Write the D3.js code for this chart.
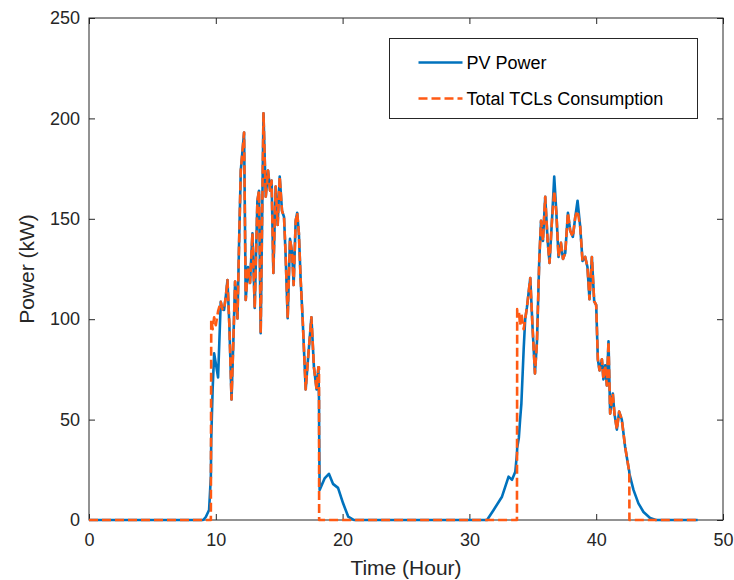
<!DOCTYPE html>
<html>
<head>
<meta charset="utf-8">
<script src="https://cdn.jsdelivr.net/npm/d3@7"></script>
<style>
  body { margin: 0; background: #fff; }
  text { font-family: "Liberation Sans", Arial, Helvetica, sans-serif; }
</style>
</head>
<body>
<div id="chart"></div>
<script>
// time axis (hours) shared by both series
const hours = [
  0, 9.0, 9.21, 9.47, 9.61, 9.64, 9.75, 9.87, 10.0, 10.18,
  10.39, 10.52, 10.65, 10.8, 10.92, 11.07, 11.24, 11.38, 11.52, 11.71,
  11.83, 11.97, 12.23, 12.36, 12.54, 12.7, 12.89, 13.07, 13.28, 13.41,
  13.54, 13.76, 13.94, 14.12, 14.28, 14.4, 14.54, 14.72, 14.88, 15.04,
  15.22, 15.38, 15.5, 15.67, 15.85, 16.02, 16.14, 16.3, 16.42, 16.55,
  16.69, 16.85, 17.09, 17.27, 17.54, 17.74, 17.95, 18.09, 18.14, 18.15,
  18.19, 18.58, 18.92, 19.24, 19.64, 20.04, 20.44, 20.9, 31.39, 31.91,
  32.57, 33.09, 33.36, 33.62, 33.75, 33.77, 33.9, 34.0, 34.1, 34.28,
  34.4, 34.54, 34.8, 34.98, 35.17, 35.33, 35.51, 35.65, 35.8, 35.98,
  36.17, 36.32, 36.51, 36.69, 36.85, 37.03, 37.22, 37.38, 37.56, 37.77,
  37.95, 38.16, 38.35, 38.53, 38.74, 38.92, 39.13, 39.31, 39.47, 39.66,
  39.84, 40.0, 40.13, 40.26, 40.45, 40.57, 40.71, 40.84, 40.97, 41.1,
  41.31, 41.44, 41.63, 41.81, 42.02, 42.28, 42.54, 42.61, 42.62, 42.94,
  43.33, 43.73, 44.25, 44.7, 48
];

// PV Power (kW)
const pvPower = [
  0, 0, 1.5, 5, 21.6, 40, 65, 83, 78, 71,
  108.7, 105, 104.6, 112, 119.5, 97, 60, 88, 118.7, 100.4,
  136, 174, 193, 109.6, 126, 118, 142.8, 105.6, 159, 164,
  93, 202.5, 161, 174, 164, 169, 123, 166, 147, 171,
  154, 151, 133, 100.5, 140, 133, 117, 149, 153, 143,
  120, 100, 65, 80, 101, 76, 65, 76, 60, 45,
  15, 20.7, 23, 18, 16, 8.3, 1.7, 0, 0, 5,
  11.6, 21.6, 20, 24, 33, 36, 41, 50, 58, 85,
  100, 106, 120.5, 96, 73, 89, 129.5, 149, 139, 161,
  139, 128, 149, 171, 154, 131, 138, 130, 133, 153,
  144, 141, 151, 159, 146, 129, 131, 126, 110, 131,
  109, 107, 80, 74.5, 80, 70, 77, 67, 89, 53,
  63, 53, 45, 54, 50, 36.5, 26.5, 24, 23, 15,
  8.3, 4, 1, 0, 0
];

// Total TCLs Consumption (kW)
const tclConsumption = [
  0, 0, 0, 0, 0, 100, 95, 101, 97, 104,
  108.7, 105, 104.6, 112, 119.5, 97, 60, 88, 118.7, 100.4,
  136, 174, 193, 109.6, 126, 118, 142.8, 105.6, 159, 164,
  93, 202.5, 161, 174, 164, 169, 123, 166, 147, 171,
  154, 151, 133, 100.5, 140, 133, 117, 149, 153, 143,
  120, 100, 65, 80, 101, 76, 65, 76, 76, 0,
  0, 0, 0, 0, 0, 0, 0, 0, 0, 0,
  0, 0, 0, 0, 0, 105, 104, 97, 103, 95,
  100, 106, 120.5, 96, 73, 89, 129.5, 149, 139, 161,
  139, 128, 149, 164, 154, 131, 138, 130, 133, 153,
  144, 141, 151, 154, 146, 129, 131, 126, 110, 131,
  109, 107, 80, 74.5, 80, 70, 77, 67, 89, 53,
  63, 53, 45, 54, 50, 36.5, 26.5, 24, 0, 0,
  0, 0, 0, 0, 0
];

const xTicks = [0, 10, 20, 30, 40, 50];
const yTicks = [0, 50, 100, 150, 200, 250];
const seriesNames = ["PV Power", "Total TCLs Consumption"];

const margin = { top: 18, right: 11, bottom: 60, left: 89 },
  width = 734 - margin.left - margin.right,
  height = 580 - margin.top - margin.bottom;

const axisColor = "#262626";
const blue = "#0072BD";
const orange = "#FF5A14";

const svg = d3.select("#chart")
  .append("svg")
  .attr("width", 734)
  .attr("height", 580)
  .append("g")
  .attr("transform", `translate(${margin.left},${margin.top})`);

const x = d3.scaleLinear().domain([0, 50]).range([0, width]);
const y = d3.scaleLinear().domain([0, 250]).range([height, 0]);

// axes with inward ticks
const styleAxis = function (g) {
  g.select(".domain").remove();
  g.selectAll(".tick line").attr("stroke", axisColor);
  g.selectAll(".tick text")
    .attr("fill", axisColor)
    .style("font-size", "18px");
};

svg.append("g")
  .attr("transform", `translate(0,${height})`)
  .call(d3.axisBottom(x).tickValues(xTicks).tickSize(-6).tickPadding(13))
  .call(styleAxis);

svg.append("g")
  .call(d3.axisLeft(y).tickValues(yTicks).tickSize(-6).tickPadding(9))
  .call(styleAxis);

svg.append("g")
  .call(d3.axisTop(x).tickValues(xTicks).tickSize(-6).tickFormat(""))
  .call(styleAxis);

svg.append("g")
  .attr("transform", `translate(${width},0)`)
  .call(d3.axisRight(y).tickValues(yTicks).tickSize(-6).tickFormat(""))
  .call(styleAxis);

// box
svg.append("rect")
  .attr("x", 0).attr("y", 0)
  .attr("width", width).attr("height", height)
  .attr("fill", "none")
  .attr("stroke", axisColor)
  .attr("stroke-width", 1);

// lines
const pvData = hours.map((h, i) => ({ h: h, v: pvPower[i] }));
const tclData = hours.map((h, i) => ({ h: h, v: tclConsumption[i] }));

const line = d3.line()
  .x(function (d) { return x(d.h); })
  .y(function (d) { return y(d.v); });

svg.append("path")
  .datum(pvData)
  .attr("fill", "none")
  .attr("stroke", blue)
  .attr("stroke-width", 2.6)
  .attr("stroke-linejoin", "round")
  .attr("d", line);

svg.append("path")
  .datum(tclData)
  .attr("fill", "none")
  .attr("stroke", orange)
  .attr("stroke-width", 2.6)
  .attr("stroke-dasharray", "9,4")
  .attr("stroke-linejoin", "round")
  .attr("d", line);

// axis labels
svg.append("text")
  .attr("x", width / 2)
  .attr("y", height + 55)
  .attr("text-anchor", "middle")
  .attr("fill", axisColor)
  .style("font-size", "21px")
  .text("Time (Hour)");

svg.append("text")
  .attr("transform", `translate(${-55},${height / 2}) rotate(-90)`)
  .attr("text-anchor", "middle")
  .attr("fill", axisColor)
  .style("font-size", "21px")
  .text("Power (kW)");

// legend
const legend = svg.append("g")
  .attr("transform", `translate(${389.5 - margin.left},${38.5 - margin.top})`);

legend.append("rect")
  .attr("width", 308).attr("height", 80)
  .attr("fill", "#fff")
  .attr("stroke", axisColor)
  .attr("stroke-width", 1);

const legendColors = [blue, orange];
const legendDash = [null, "9,4"];
seriesNames.forEach(function (name, i) {
  const ly = 24 + i * 36;
  legend.append("line")
    .attr("x1", 29).attr("x2", 73)
    .attr("y1", ly).attr("y2", ly)
    .attr("stroke", legendColors[i])
    .attr("stroke-width", 2.6)
    .attr("stroke-dasharray", legendDash[i]);
  legend.append("text")
    .attr("x", 77).attr("y", ly)
    .attr("dy", "0.35em")
    .attr("fill", "#000")
    .style("font-size", "18px")
    .text(name);
});
</script>
</body>
</html>
